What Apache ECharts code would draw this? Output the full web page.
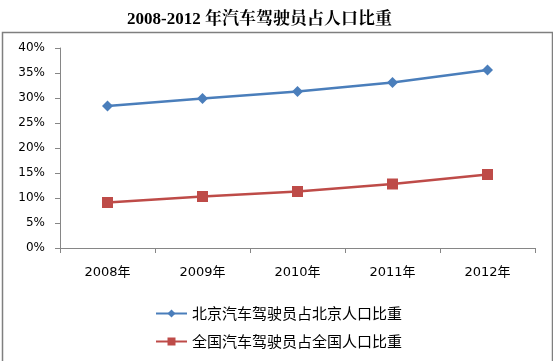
<!DOCTYPE html>
<html><head><meta charset="utf-8">
<script src="https://cdn.jsdelivr.net/npm/echarts@6/dist/echarts.min.js"></script>
<style>html,body{margin:0;padding:0;background:#fff;}#c{width:553px;height:361px;}</style>
</head><body><div id="c"></div>
<script>
var categories = ['2008年','2009年','2010年','2011年','2012年'];
var beijingName = '北京汽车驾驶员占北京人口比重';
var nationalName = '全国汽车驾驶员占全国人口比重';
var beijingValues = [0.284, 0.299, 0.313, 0.331, 0.356];
var nationalValues = [0.091, 0.103, 0.113, 0.128, 0.147];
var yTicks = [0, 0.05, 0.10, 0.15, 0.20, 0.25, 0.30, 0.35, 0.40];

var chart = echarts.init(document.getElementById('c'), null, {renderer:'canvas'});
var font = '"DejaVu Sans", "Noto Sans CJK SC", sans-serif';
chart.setOption({
  animation: false,
  backgroundColor: '#fff',
  title: {
    text: '2008-2012 年汽车驾驶员占人口比重',
    left: 122, top: 6,
    textStyle: {fontFamily: '"Liberation Serif", "Noto Serif CJK SC", "Noto Sans CJK SC", serif', fontSize: 17, fontWeight: 'bold', color: '#000'}
  },
  graphic: [{
    type: 'rect', silent: true,
    shape: {x: 2.5, y: 32.5, width: 550, height: 340},
    style: {fill: 'none', stroke: '#7f7f7f', lineWidth: 1.5}
  }],
  grid: {left: 60, right: 18, top: 48, bottom: 113, containLabel: false},
  legend: {
    orient: 'vertical', left: 150, top: 301, itemGap: 13,
    itemWidth: 31, itemHeight: 10,
    textStyle: {fontFamily: '"Noto Sans CJK SC", sans-serif', fontSize: 15, color: '#000'},
    data: [beijingName, nationalName]
  },
  xAxis: {
    type: 'category', data: categories, boundaryGap: true,
    axisLine: {lineStyle: {color: '#868686', width: 1}},
    axisTick: {show: true, length: 5, lineStyle: {color: '#868686'}},
    axisLabel: {fontFamily: font, fontSize: 13, color: '#000', margin: 18}
  },
  yAxis: {
    type: 'value', min: 0, max: 0.4, interval: 0.05,
    axisLine: {show: true, lineStyle: {color: '#868686', width: 1}},
    axisTick: {show: true, length: 5, lineStyle: {color: '#868686'}},
    splitLine: {show: false},
    axisLabel: {fontFamily: font, fontSize: 12, color: '#000', margin: 15,
      formatter: function(v){ return Math.round(v*100) + '%'; }}
  },
  series: [{
    name: beijingName, type: 'line', data: beijingValues,
    symbol: 'diamond', symbolSize: 11,
    lineStyle: {color: '#4a7ebb', width: 2.5},
    itemStyle: {color: '#4a7ebb'}
  },{
    name: nationalName, type: 'line', data: nationalValues,
    symbol: 'rect', symbolSize: 11,
    lineStyle: {color: '#be4b48', width: 2.5},
    itemStyle: {color: '#be4b48'}
  }]
});
</script></body></html>
